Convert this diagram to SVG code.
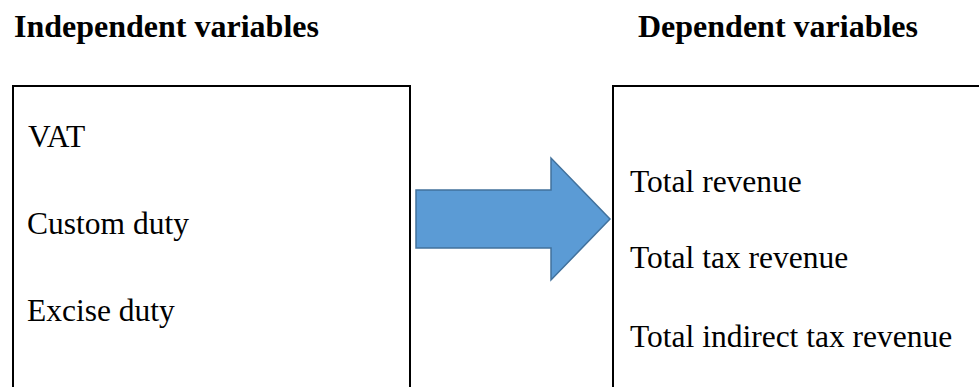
<svg xmlns="http://www.w3.org/2000/svg" width="979" height="387" viewBox="0 0 979 387">
<style>
.h{font-family:"Liberation Serif","Times New Roman",serif;font-weight:bold;font-size:32px;fill:#000}
.t{font-family:"Liberation Serif","Times New Roman",serif;font-size:31.5px;fill:#000}
.box{fill:#fff;stroke:#000;stroke-width:2}
.arrow{fill:#5B9BD5;stroke:#41719C;stroke-width:1.5;stroke-linejoin:miter}
</style>
<rect width="979" height="387" fill="#fff"/>
<text class="h" x="14" y="37">Independent variables</text>
<text class="h" x="638" y="37">Dependent variables</text>
<g id="independent">
<rect class="box" x="13" y="86" width="397" height="320"/>
<text class="t" x="28" y="147">VAT</text>
<text class="t" x="27" y="234">Custom duty</text>
<text class="t" x="27" y="321">Excise duty</text>
</g>
<g id="dependent">
<rect class="box" x="613" y="86" width="400" height="320"/>
<text class="t" x="630" y="192">Total revenue</text>
<text class="t" x="630" y="268">Total tax revenue</text>
<text class="t" x="630" y="347">Total indirect tax revenue</text>
</g>
<g id="connectors">
<polygon class="arrow" points="416,190 551,190 551,158 610,219 551,280 551,248 416,248"/>
</g>
</svg>
